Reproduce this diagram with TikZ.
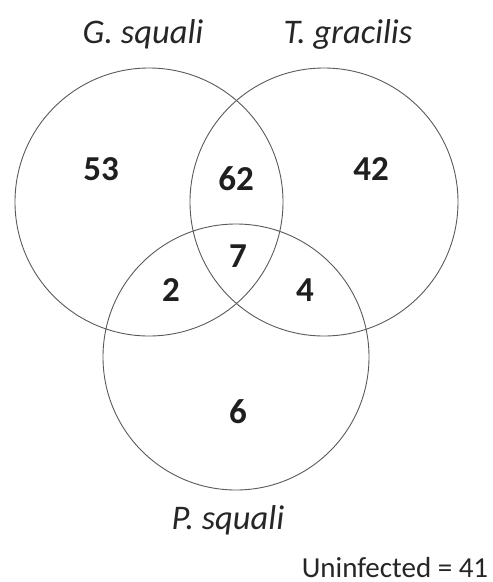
\documentclass[tikz,border=0pt]{standalone}
\usepackage{fontspec}
\setmainfont{Carlito}
\begin{document}
\begin{tikzpicture}[x=1pt,y=-1pt,
  ring/.style={draw=black!65, line width=0.9pt},
  num/.style={font=\fontsize{35}{40}\selectfont\bfseries, text=black!88, anchor=base, inner sep=0pt},
  lab/.style={font=\fontsize{34.5}{40}\selectfont\itshape, text=black!85, anchor=base, inner sep=0pt},
  note/.style={font=\fontsize{29}{34}\selectfont, text=black!85, anchor=base, inner sep=0pt}]
\useasboundingbox (0,0) rectangle (493,582);
\draw[ring] (149,202) circle[radius=134];
\draw[ring] (324,202) circle[radius=134];
\draw[ring] (236,357) circle[radius=133];
\node[lab] (g) at (143,43) {G. squali};
\node[lab] (t) at (348,43) {T. gracilis};
\node[lab] (p) at (228,529) {P. squali};
\node[num] (n53) at (101,180) {53};
\node[num] (n62) at (236,190) {62};
\node[num] (n42) at (371,180) {42};
\node[num] (n7) at (238,267) {7};
\node[num] (n2) at (171,301) {2};
\node[num] (n4) at (305,301) {4};
\node[num] (n6) at (238,423) {6};
\node[note] (u) at (395,577) {Uninfected = 41};
\end{tikzpicture}
\end{document}
